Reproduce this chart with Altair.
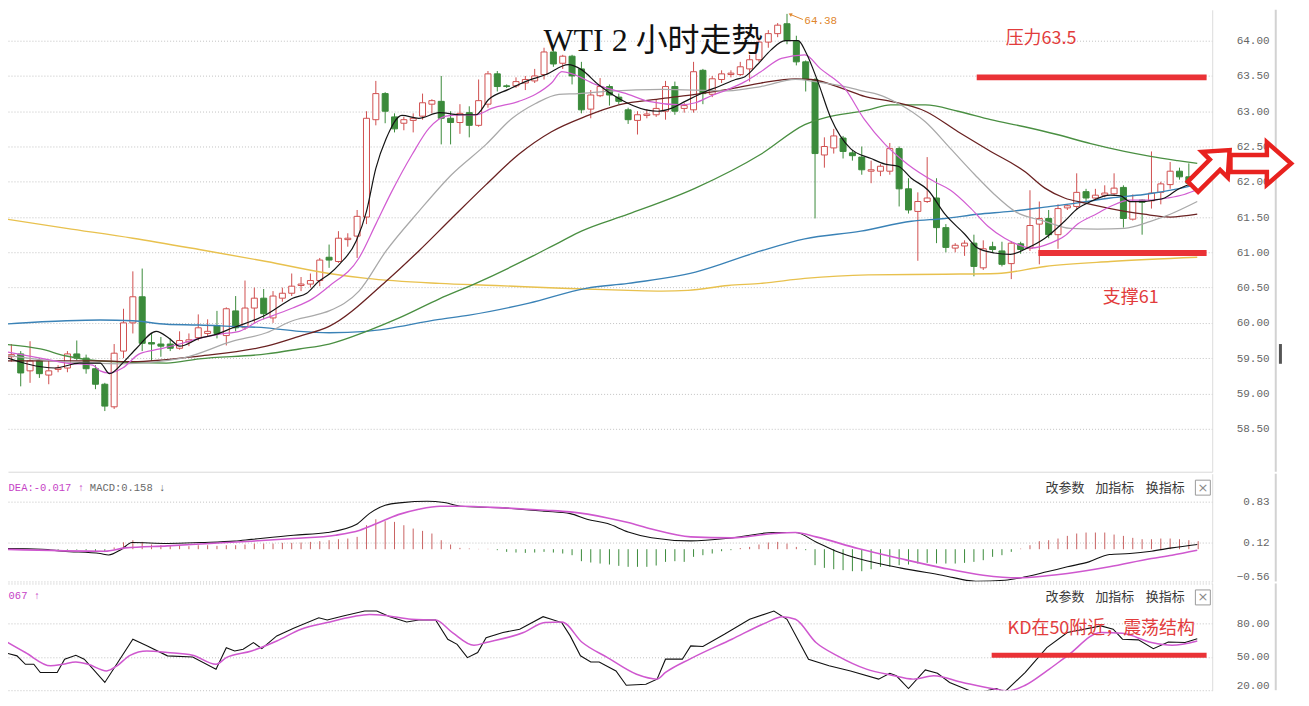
import altair as alt
import pandas as pd

RED = "#d04f4f"
GREEN = "#3b8b3b"
HRED = "#c96262"
ANN = "#e23c3c"
ANN_LINE = "#ea3236"
MAG = "#c63fc6"

# ---------------- candles (index 0..128) ----------------
opens = [59.28, 59.52, 59.56, 59.32, 59.46, 59.26, 59.34, 59.36, 59.56, 59.50,
         59.35, 59.13, 58.81, 59.60, 60.00, 60.37, 59.72, 59.70, 59.70, 59.64,
         59.73, 59.79, 59.85, 59.96, 59.82, 60.17, 59.93, 60.21, 60.35, 60.07,
         60.35, 60.42, 60.53, 60.55, 60.60, 60.93, 60.87, 61.18, 61.23, 61.50,
         62.88, 63.25, 62.92, 62.83, 62.87, 62.93, 63.10, 63.14, 62.90, 62.84,
         62.98, 62.80, 63.10, 63.53, 63.36, 63.36, 63.40, 63.43, 63.52, 63.84,
         63.68, 63.78, 63.60, 63.03, 63.22, 63.35, 63.20, 63.02, 62.87, 62.94,
         62.95, 63.00, 63.35, 63.04, 63.02, 63.58, 63.24, 63.45, 63.52, 63.52,
         63.60, 63.73, 63.98, 64.10, 64.24, 63.99, 63.70, 63.45, 62.38, 62.48,
         62.62, 62.41, 62.35, 62.15, 62.15, 62.15, 62.47, 61.90, 61.58, 61.72,
         61.77, 61.35, 61.06, 61.09, 61.13, 60.78, 61.08, 61.02, 60.84, 61.12,
         61.06, 61.40, 61.48, 61.25, 61.63, 61.65, 61.86, 61.77, 61.81, 61.83,
         61.92, 61.47, 61.74, 61.73, 61.85, 61.96, 62.15, 62.07, 61.95]
closes = [59.49, 59.55, 59.29, 59.46, 59.28, 59.32, 59.36, 59.56, 59.50, 59.35,
          59.13, 58.82, 59.57, 60.00, 60.37, 59.71, 59.70, 59.67, 59.64, 59.75,
          59.76, 59.93, 59.88, 59.85, 60.20, 59.93, 60.21, 60.35, 60.13, 60.38,
          60.42, 60.52, 60.55, 60.60, 60.89, 60.89, 61.20, 61.20, 61.51, 62.90,
          63.25, 63.00, 62.75, 62.88, 62.90, 63.12, 63.15, 62.90, 62.84, 62.97,
          62.80, 63.15, 63.53, 63.35, 63.35, 63.42, 63.45, 63.50, 63.84, 63.67,
          63.78, 63.50, 63.02, 63.23, 63.35, 63.23, 63.14, 62.88, 62.95, 62.96,
          63.04, 63.35, 63.00, 63.08, 63.56, 63.25, 63.46, 63.53, 63.54, 63.63,
          63.73, 63.98, 64.10, 64.22, 64.00, 63.70, 63.45, 62.40, 62.50, 62.65,
          62.43, 62.37, 62.17, 62.17, 62.22, 62.47, 61.90, 61.60, 61.72, 61.77,
          61.35, 61.07, 61.10, 61.13, 60.80, 61.05, 61.04, 60.83, 61.13, 61.04,
          61.38, 61.48, 61.25, 61.62, 61.66, 61.85, 61.77, 61.81, 61.84, 61.91,
          61.48, 61.72, 61.71, 61.84, 61.97, 62.15, 62.07, 61.98, 62.05]
highs = [59.55, 59.70, 59.60, 59.74, 59.50, 59.46, 59.40, 59.60, 59.75, 59.55,
         59.40, 59.15, 59.70, 60.20, 60.73, 60.77, 59.84, 59.80, 59.78, 59.88,
         59.85, 60.12, 60.05, 60.17, 60.22, 60.38, 60.60, 60.50, 60.48, 60.45,
         60.50, 60.70, 60.65, 60.70, 60.92, 61.11, 61.30, 61.27, 61.60, 63.00,
         63.43, 63.27, 62.97, 62.92, 62.97, 63.25, 63.17, 63.50, 63.00, 63.10,
         63.07, 63.45, 63.57, 63.57, 63.38, 63.48, 63.50, 63.60, 63.90, 63.88,
         63.80, 63.80, 63.70, 63.30, 63.47, 63.38, 63.25, 63.05, 63.00, 63.03,
         63.17, 63.43, 63.42, 63.12, 63.70, 63.60, 63.50, 63.58, 63.58, 63.70,
         63.80, 64.02, 64.15, 64.25, 64.38, 64.07, 63.72, 63.47, 62.63, 62.75,
         62.65, 62.45, 62.50, 62.30, 62.25, 62.55, 62.50, 62.05, 61.85, 62.35,
         62.05, 61.40, 61.13, 61.17, 61.25, 61.17, 61.15, 61.15, 61.16, 61.15,
         61.88, 61.72, 61.60, 61.68, 61.68, 62.12, 61.90, 61.90, 61.95, 62.12,
         61.95, 61.82, 61.75, 62.43, 62.00, 62.28, 62.20, 62.26, 62.10]
lows = [59.15, 59.45, 59.10, 59.15, 59.22, 59.13, 59.30, 59.30, 59.47, 59.28,
        59.06, 58.75, 58.78, 59.50, 59.85, 59.60, 59.46, 59.52, 59.60, 59.62,
        59.67, 59.75, 59.80, 59.78, 59.68, 59.88, 59.90, 60.00, 60.05, 60.00,
        60.30, 60.38, 60.45, 60.50, 60.52, 60.78, 60.85, 61.08, 60.92, 61.40,
        62.80, 62.83, 62.70, 62.73, 62.70, 62.88, 62.97, 62.53, 62.53, 62.68,
        62.63, 62.78, 63.05, 63.28, 63.33, 63.33, 63.30, 63.40, 63.45, 63.63,
        63.60, 63.38, 62.97, 62.90, 63.20, 63.08, 63.10, 62.82, 62.67, 62.90,
        62.92, 62.88, 62.95, 62.98, 62.98, 63.10, 63.20, 63.40, 63.48, 63.50,
        63.42, 63.70, 63.90, 64.05, 63.95, 63.65, 63.28, 61.48, 62.20, 62.40,
        62.33, 62.30, 62.10, 61.98, 62.08, 62.10, 61.65, 61.55, 60.88, 61.70,
        61.13, 61.00, 61.00, 60.95, 60.66, 60.75, 61.00, 60.80, 60.62, 60.98,
        61.02, 60.83, 61.20, 61.05, 61.60, 61.60, 61.70, 61.75, 61.78, 61.80,
        61.35, 61.45, 61.25, 61.62, 61.68, 61.90, 62.03, 61.94, 61.93]

# ---------------- moving averages (read at sample candle positions) ----------------
ma5_i = [0, 5.7, 8.3, 10.5, 11.5, 12.9, 14.4, 16.5, 17.9, 19.0, 21.1, 23.0, 24.7, 26.8, 28.3,
         29.4, 31.1, 32.6, 33.9, 35.0, 36.1, 37.9, 39.0, 40.0, 41.1, 42.8, 44.6, 46.8, 48.9, 50.7,
         52.1, 54.2, 56.0, 58.2, 60.6, 62.0, 63.8, 66.0, 68.9, 70.2, 71.6, 73.1, 75.3, 76.7, 78.5,
         79.5, 80.9, 82.3, 83.8, 85.2, 86.0, 87.3, 88.7, 90.8, 93.0, 94.5, 95.9, 97.3, 99.1, 100.9,
         103.0, 104.4, 106.2, 107.9, 109.7, 111.6, 113.7, 115.1, 116.5, 118.6, 119.7, 120.7, 122.2,
         123.3, 124.4, 125.8, 127.9]
ma5_v = [59.53, 59.36, 59.43, 59.43, 59.28, 59.43, 59.64, 59.88, 59.78, 59.67, 59.78, 59.84, 59.93,
         60.03, 60.12, 60.21, 60.35, 60.42, 60.59, 60.69, 60.83, 61.16, 61.58, 62.19, 62.61, 62.94,
         62.90, 62.98, 62.95, 62.95, 63.17, 63.31, 63.42, 63.52, 63.66, 63.59, 63.38, 63.18, 63.02,
         63.00, 63.04, 63.14, 63.28, 63.35, 63.45, 63.49, 63.67, 63.87, 64.00, 64.00, 63.84, 63.42,
         62.90, 62.47, 62.33, 62.25, 62.22, 62.05, 61.88, 61.54, 61.26, 61.06, 60.99, 60.97, 61.06,
         61.20, 61.44, 61.62, 61.72, 61.81, 61.80, 61.72, 61.72, 61.74, 61.77, 61.89, 62.00]
ma10_i = [0, 4.1, 6.9, 9.7, 10.5, 11.5, 12.9, 14.7, 16.9, 19.0, 21.1, 23.3, 25.4, 27.5, 28.9, 31.1,
          33.2, 35.0, 38.2, 40.0, 41.7, 43.9, 45.7, 47.5, 49.2, 50.7, 52.4, 55.3, 57.1, 58.8, 59.9,
          61.0, 63.5, 67.0, 69.2, 72.7, 74.2, 75.9, 77.7, 79.5, 81.2, 83.4, 85.9, 87.6, 90.2, 92.3,
          94.5, 96.9, 99.8, 101.5, 103.7, 105.5, 107.3, 108.7, 110.1, 112.2, 113.7, 115.1, 117.2,
          118.6, 120.7, 122.9, 124.7, 126.5, 127.9]
ma10_v = [59.60, 59.50, 59.43, 59.40, 59.32, 59.29, 59.36, 59.56, 59.63, 59.70, 59.78, 59.84, 59.88,
          60.03, 60.10, 60.21, 60.34, 60.52, 60.92, 61.40, 61.86, 62.39, 62.76, 62.93, 62.95, 62.95,
          63.04, 63.14, 63.24, 63.40, 63.56, 63.53, 63.38, 63.24, 63.14, 63.09, 63.12, 63.22, 63.31,
          63.42, 63.56, 63.75, 63.80, 63.60, 63.32, 62.88, 62.53, 62.25, 62.00, 61.88, 61.62, 61.37,
          61.20, 61.11, 61.06, 61.13, 61.23, 61.40, 61.55, 61.65, 61.74, 61.74, 61.77, 61.82, 61.89]
ma20_i = [0, 6.2, 12.6, 19.3, 24.7, 28.3, 31.1, 33.2, 35.0, 38.2, 41.1, 44.6, 48.1, 51.8, 54.6, 57.1,
          59.6, 61.7, 64.6, 70.6, 77.7, 81.2, 84.9, 87.0, 90.2, 92.3, 93.7, 95.9, 98.8, 101.5, 104.1,
          106.2, 108.4, 111.6, 114.3, 117.2, 120.1, 122.9, 125.0, 127.9]
ma20_v = [59.55, 59.45, 59.42, 59.50, 59.74, 59.86, 60.03, 60.10, 60.17, 60.45, 61.02, 61.58, 62.10,
          62.53, 62.90, 63.11, 63.24, 63.25, 63.28, 63.31, 63.29, 63.35, 63.45, 63.42, 63.35, 63.28,
          63.24, 63.11, 62.85, 62.47, 62.10, 61.82, 61.58, 61.44, 61.34, 61.33, 61.34, 61.44, 61.54,
          61.72]
ma30_i = [0, 10.5, 14.0, 21.1, 28.3, 31.8, 35.0, 41.1, 44.6, 48.1, 51.8, 55.3, 58.8, 62.5, 66.0, 70.6,
          74.2, 77.7, 81.2, 84.9, 86.6, 90.2, 92.3, 95.1, 98.8, 102.3, 105.8, 109.4, 111.6, 113.7,
          115.8, 118.6, 122.2, 125.0, 127.9]
ma30_v = [59.46, 59.46, 59.45, 59.53, 59.67, 59.81, 59.95, 60.59, 61.02, 61.48, 61.96, 62.39, 62.71,
          62.93, 63.09, 63.18, 63.24, 63.31, 63.40, 63.46, 63.45, 63.31, 63.21, 63.14, 63.00, 62.71,
          62.43, 62.15, 61.91, 61.77, 61.70, 61.62, 61.54, 61.50, 61.54]
ma60_i = [0, 4.1, 6.9, 10.5, 17.6, 21.1, 28.3, 31.8, 35.0, 39.0, 42.5, 46.8, 50.7, 56.4, 59.9, 62.0,
          67.0, 74.2, 81.2, 85.9, 92.7, 95.1, 98.8, 102.3, 105.8, 109.4, 112.9, 116.5, 120.1, 122.9,
          125.8, 127.9]
ma60_v = [59.70, 59.63, 59.53, 59.46, 59.43, 59.49, 59.56, 59.63, 59.70, 59.88, 60.07, 60.34, 60.56,
          60.92, 61.16, 61.30, 61.54, 61.91, 62.39, 62.81, 63.02, 63.09, 63.09, 63.00, 62.88, 62.78,
          62.67, 62.54, 62.43, 62.36, 62.30, 62.26]
ma120_i = [0, 6.9, 10.5, 14.0, 17.6, 21.1, 24.7, 28.3, 31.8, 35.0, 39.0, 46.8, 50.0, 56.4, 62.5, 67.0,
           74.2, 81.2, 85.9, 91.9, 97.3, 100.9, 104.4, 107.9, 111.6, 115.1, 118.6, 122.2, 125.8, 127.9]
ma120_v = [59.98, 60.03, 60.04, 60.03, 59.98, 59.97, 59.95, 59.93, 59.88, 59.86, 59.88, 60.05, 60.11,
           60.28, 60.49, 60.56, 60.72, 61.02, 61.19, 61.30, 61.44, 61.48, 61.54, 61.58, 61.64, 61.70,
           61.77, 61.82, 61.90, 61.96]
ma250_i = [0, 6.9, 14.0, 21.1, 28.3, 35.0, 39.0, 46.8, 52.8, 59.9, 67.0, 70.6, 73.4, 77.7, 81.2, 85.9,
           92.7, 100.9, 106.5, 111.6, 118.6, 127.9]
ma250_v = [61.48, 61.34, 61.20, 61.04, 60.87, 60.70, 60.63, 60.56, 60.53, 60.49, 60.46, 60.45, 60.46,
           60.53, 60.56, 60.63, 60.68, 60.69, 60.70, 60.80, 60.87, 60.93]

ma_names = ["MA250", "MA120", "MA60", "MA30", "MA20", "MA10", "MA5"]
ma_colors = ["#e8c14e", "#3a82b6", "#4a8f42", "#6a2222", "#a9a9a9", "#d25dd2", "#151515"]
ma_widths = [1.4, 1.2, 1.1, 1.1, 1.0, 1.2, 1.1]

# ---------------- MACD ----------------
hist_vals = [0.01, 0.01, 0.0, 0.0, -0.01, -0.01, -0.02, -0.01, -0.01, -0.02,
             -0.04, -0.05, 0.03, 0.12, 0.156, 0.127, 0.081, 0.069, 0.058, 0.058,
             0.052, 0.069, 0.069, 0.058, 0.069, 0.069, 0.081, 0.098, 0.098, 0.098,
             0.110, 0.110, 0.116, 0.127, 0.139, 0.156, 0.173, 0.185, 0.214, 0.416,
             0.520, 0.486, 0.474, 0.416, 0.358, 0.318, 0.272, 0.156, 0.081, 0.023,
             0.012, 0.005, 0.006, -0.017, -0.046, -0.058, -0.064, -0.058, -0.046, -0.058,
             -0.075, -0.104, -0.208, -0.231, -0.249, -0.266, -0.289, -0.306, -0.306, -0.306,
             -0.283, -0.220, -0.208, -0.220, -0.133, -0.104, -0.075, -0.035, -0.017, 0.02,
             0.040, 0.081, 0.116, 0.127, 0.098, 0.040, -0.017, -0.277, -0.324, -0.347,
             -0.364, -0.382, -0.382, -0.347, -0.306, -0.306, -0.277, -0.266, -0.249, -0.237,
             -0.249, -0.249, -0.249, -0.237, -0.220, -0.191, -0.133, -0.104, -0.046, 0.01,
             0.069, 0.139, 0.156, 0.185, 0.231, 0.272, 0.289, 0.289, 0.289, 0.254,
             0.231, 0.197, 0.173, 0.173, 0.185, 0.185, 0.173, 0.156, 0.139]
dif_i = [0, 4.3, 6.5, 10.5, 11.4, 12.8, 13.9, 17.7, 21.3, 24.9, 26.7, 31.2, 34.8, 37.9, 39.3, 41,
         42.8, 45.5, 47.3, 49.1, 53.6, 58.1, 60.8, 62.6, 64.8, 67, 69.5, 73.7, 78.1, 82.6, 84.9,
         87.1, 89.4, 91.6, 93.8, 96.1, 100.6, 104.2, 107.3, 109.5, 111.8, 114, 116.3, 118.5,
         120.7, 123, 125.2, 127.9]
dif_v = [0.01, 0.0, -0.035, -0.075, -0.10, 0.0, 0.116, 0.10, 0.116, 0.14, 0.17, 0.243, 0.289,
         0.428, 0.618, 0.763, 0.809, 0.832, 0.809, 0.746, 0.717, 0.659, 0.618, 0.52, 0.445, 0.30,
         0.20, 0.145, 0.197, 0.289, 0.289, 0.127, -0.046, -0.162, -0.249, -0.324, -0.451, -0.555,
         -0.538, -0.48, -0.393, -0.306, -0.22, -0.092, -0.075, -0.035, 0.023, 0.081]
dea_i = [0, 11, 13.2, 17.7, 22.2, 26.7, 31.2, 35.7, 38.3, 40.1, 42.4, 44.6, 46.9, 49.1, 53.6, 58.1,
         60.8, 64.8, 67, 69.5, 73.7, 78.1, 82.6, 84.9, 87.1, 91.6, 96.1, 100.6, 105, 108.7, 111.8,
         114, 118.5, 123, 125.2, 127.9]
dea_v = [0.0, -0.035, 0.023, 0.058, 0.10, 0.139, 0.185, 0.243, 0.33, 0.445, 0.60, 0.694, 0.746,
         0.746, 0.717, 0.676, 0.647, 0.543, 0.462, 0.35, 0.214, 0.197, 0.272, 0.289, 0.214, 0.012,
         -0.162, -0.324, -0.451, -0.497, -0.462, -0.422, -0.306, -0.162, -0.104, -0.017]

# ---------------- KD ----------------
k_i = [0, 1.6, 2.5, 3.4, 4.1, 5.9, 6.7, 7.9, 8.8, 11, 14, 15.5, 17.7, 20.4, 22.9, 24, 24.9, 25.8,
       26.9, 27.8, 29.4, 31.2, 33.9, 34.8, 36.5, 38.8, 40.1, 41.5, 43.3, 44.6, 46.4, 47.7, 48.7,
       49.8, 50.9, 51.8, 53.6, 55.4, 57.9, 59.9, 60.8, 61.9, 63, 63.9, 65.7, 66.8, 68.9, 70.1, 71,
       72.8, 73.7, 75, 77.3, 80, 82.6, 84, 86.3, 88.5, 90.8, 93.8, 95, 95.7, 97, 98.8, 100.1, 101.4,
       104.2, 106.4, 107.3, 109.5, 111.8, 114, 117.6, 118.9, 119.9, 121.6, 123.2, 124.8, 126.6, 127.9]
k_v = [54.5, 51, 43.4, 43.4, 36, 36, 48, 51.5, 48, 27, 66, 60, 51, 50, 39, 58.4, 55.4, 57, 63, 57.5,
       69, 76, 85.4, 83.3, 87, 91.4, 91.4, 86.3, 81.5, 83.3, 83.3, 66, 61.4, 49.4, 54, 67.4, 72, 75,
       86.3, 81, 69, 51, 45.5, 45.5, 37.4, 24.5, 25.4, 30, 48, 48, 60, 59.4, 70.4, 84, 91.4, 84, 48,
       42, 37.4, 30, 35.3, 33, 21.5, 38.3, 35.3, 27, 17.3, 21.5, 18.5, 36, 58.4, 72, 78, 75, 66, 65.4,
       57.5, 63.5, 63, 66.5]
d_i = [0, 2.5, 5.2, 6.5, 7.9, 9.2, 11.2, 12.3, 13.7, 15.5, 17.7, 20.4, 22.9, 24, 26.7, 29.4, 32,
       34.8, 37.5, 39.3, 41, 43.8, 46.4, 48.2, 50.5, 51.8, 55.8, 58.1, 59.9, 62.1, 64.8, 67.9, 70.1,
       71, 73.7, 78.1, 81.8, 83.5, 84.9, 87.1, 89.4, 92.5, 95.2, 97.5, 99.7, 102.8, 105.9, 107.7,
       109.5, 111.8, 114, 117.6, 119.9, 123, 125.2, 127.9]
d_v = [66, 54, 42, 43.4, 45.5, 43.4, 37.4, 42, 51.5, 55.4, 54, 51.5, 43.4, 49.4, 55.4, 64.4, 75, 81,
       86.3, 88.4, 87.5, 84, 83.3, 72, 60.5, 63, 72, 81, 81.5, 63, 49.4, 34.4, 30, 36, 48.5, 66, 81,
       86.3, 84, 63, 51, 39, 33.5, 30, 33, 27, 21.5, 19.4, 24.5, 37.4, 51, 72, 71.3, 63, 60.5, 64.4]

# ---------------- ticks / labels ----------------
price_ticks = [58.5, 59.0, 59.5, 60.0, 60.5, 61.0, 61.5, 62.0, 62.5, 63.0, 63.5, 64.0]
macd_ticks = [-0.56, 0.12, 0.83]
kd_ticks = [20, 50, 80]
tool_labels = ["改参数", "加指标", "换指标"]
tool_pos = [111.67, 117.0, 122.4]

# ---------------- frames ----------------
candles = pd.DataFrame({"i": list(range(len(opens))), "open": opens, "close": closes,
                        "high": highs, "low": lows})
ma_df = pd.concat([
    pd.DataFrame({"i": ma250_i, "v": ma250_v, "ma": "MA250"}),
    pd.DataFrame({"i": ma120_i, "v": ma120_v, "ma": "MA120"}),
    pd.DataFrame({"i": ma60_i, "v": ma60_v, "ma": "MA60"}),
    pd.DataFrame({"i": ma30_i, "v": ma30_v, "ma": "MA30"}),
    pd.DataFrame({"i": ma20_i, "v": ma20_v, "ma": "MA20"}),
    pd.DataFrame({"i": ma10_i, "v": ma10_v, "ma": "MA10"}),
    pd.DataFrame({"i": ma5_i, "v": ma5_v, "ma": "MA5"}),
], ignore_index=True)
hist_df = pd.DataFrame({"i": list(range(len(hist_vals))), "h": hist_vals, "base": 0.0})
dif_df = pd.DataFrame({"i": dif_i, "v": dif_v})
dea_df = pd.DataFrame({"i": dea_i, "v": dea_v})
k_df = pd.DataFrame({"i": k_i, "v": k_v})
d_df = pd.DataFrame({"i": d_i, "v": d_v})

W = 1207
xs = alt.Scale(domain=[0.64, 129.5], nice=False, zero=False, padding=0)
ys_main = alt.Scale(domain=[57.89, 64.438], nice=False, zero=False, padding=0)
ys_macd = alt.Scale(domain=[-0.56, 1.31], nice=False, zero=False, padding=0)
ys_kd = alt.Scale(domain=[20, 116.3], nice=False, zero=False, padding=0)


def yaxis(values, flush=False):
    return alt.Axis(orient="right", values=values, format=".2f", title=None, ticks=False,
                    labelAlign="right", labelPadding=57, labelFont="Liberation Mono",
                    labelFontSize=11, labelColor="#666666", labelFlush=flush,
                    domainColor="#dcdcdc", grid=True, gridColor="#c2c2c2", gridDash=[1, 2])


class Panel:
    def __init__(self, ys, xaxis, yax):
        self.ys, self.xaxis, self.yax = ys, xaxis, yax

    def x(self, field="x"):
        return alt.X(f"{field}:Q", scale=xs, axis=self.xaxis)

    def y(self, field="y"):
        return alt.Y(f"{field}:Q", scale=self.ys, axis=self.yax)


MAIN = Panel(ys_main, alt.Axis(labels=False, ticks=False, grid=False, title=None,
                               domainColor="#d9d9d9"), yaxis(price_ticks))
MACD = Panel(ys_macd, None, yaxis(macd_ticks, flush=True))
KD = Panel(ys_kd, alt.Axis(orient="top", labels=False, ticks=False, grid=False, title=None,
                           domainColor="#c4c4c4", domainDash=[1, 2]), yaxis(kd_ticks, flush=True))

up = "datum.close >= datum.open"
frame_df = pd.DataFrame({"x": [136.3]})


def frame(p):
    return alt.Chart(frame_df).mark_rule(color="#d2d2d2", strokeWidth=2).encode(x=p.x("x"))


def tools(p, yv):
    t = alt.Chart(pd.DataFrame({"x": tool_pos, "y": [yv] * 3, "t": tool_labels})).mark_text(
        align="left", baseline="middle", font="Noto Sans CJK SC", fontSize=13,
        color="#3a3a3a").encode(x=p.x(), y=p.y(), text="t:N")
    box = alt.Chart(pd.DataFrame({"x": [128.5], "y": [yv]})).mark_point(
        shape="square", size=225, filled=False, color="#9a9a9a", strokeWidth=1, opacity=1).encode(
        x=p.x(), y=p.y())
    cross = alt.Chart(pd.DataFrame({"x": [128.5], "y": [yv], "t": ["×"]})).mark_text(
        align="center", baseline="middle", font="DejaVu Sans", fontSize=13,
        color="#8a8a8a").encode(x=p.x(), y=p.y(), text="t:N")
    return [t, box, cross]


# ---------------- main panel ----------------
wicks = alt.Chart(candles).mark_rule(clip=True, strokeWidth=1).encode(
    x=MAIN.x("i"), y=MAIN.y("low"), y2="high:Q",
    color=alt.condition(up, alt.value(RED), alt.value(GREEN)),
)
bodies = alt.Chart(candles).mark_bar(clip=True, size=6, strokeWidth=1).encode(
    x=MAIN.x("i"), y=MAIN.y("open"), y2="close:Q",
    fill=alt.condition(up, alt.value("#ffffff"), alt.value(GREEN)),
    stroke=alt.condition(up, alt.value(RED), alt.value(GREEN)),
)
ma_lines = alt.Chart(ma_df).mark_line(clip=True, interpolate="monotone").encode(
    x=MAIN.x("i"), y=MAIN.y("v"),
    color=alt.Color("ma:N", scale=alt.Scale(domain=ma_names, range=ma_colors), legend=None),
    strokeWidth=alt.StrokeWidth("ma:N", scale=alt.Scale(domain=ma_names, range=ma_widths),
                                legend=None),
)
levels = alt.Chart(pd.DataFrame({"x": [104.3, 110.9], "x2": [128.9, 128.9],
                                 "y": [63.48, 60.99]})).mark_rule(
    color=ANN_LINE, strokeWidth=6).encode(x=MAIN.x("x"), x2="x2:Q", y=MAIN.y("y"))
level_text = alt.Chart(pd.DataFrame({"x": [107.4, 117.8], "y": [64.03, 60.35],
                                     "t": ["压力63.5", "支撑61"]})).mark_text(
    align="left", baseline="middle", font="Noto Sans CJK SC", fontSize=18, color=ANN).encode(
    x=MAIN.x("x"), y=MAIN.y("y"), text="t:N")
title_text = alt.Chart(pd.DataFrame({"x": [69.7], "y": [63.99], "t": ["WTI 2 小时走势"]})).mark_text(
    align="center", baseline="middle", font="Liberation Serif, Noto Sans CJK SC", fontSize=32,
    color="#111111").encode(x=MAIN.x("x"), y=MAIN.y("y"), text="t:N")
peak_text = alt.Chart(pd.DataFrame({"x": [85.85], "y": [64.28], "t": ["64.38"]})).mark_text(
    align="left", baseline="middle", font="Liberation Mono", fontSize=11, color="#e0862c").encode(
    x=MAIN.x("x"), y=MAIN.y("y"), text="t:N")
peak_arrow = alt.Chart(pd.DataFrame({"x": [84.4], "x2": [85.7], "y": [64.37], "y2": [64.30]})).mark_rule(
    color="#e0862c", strokeWidth=1).encode(x=MAIN.x("x"), x2="x2:Q", y=MAIN.y("y"), y2="y2:Q")
peak_head = alt.Chart(pd.DataFrame({"x": [84.4], "y": [64.37]})).mark_point(
    shape="triangle", size=16, filled=True, color="#e0862c", opacity=1, angle=295).encode(
    x=MAIN.x("x"), y=MAIN.y("y"))
ARROW = "M-1,-0.28L0.2,-0.28L0.2,-0.7L1,0L0.2,0.7L0.2,0.28L-1,0.28Z"
arrow_ur = alt.Chart(pd.DataFrame({"x": [129.4], "y": [62.19]})).mark_point(
    shape=ARROW, size=2700, angle=315, filled=True, fill="#ffffff", stroke="#e8221f",
    strokeWidth=4.5, opacity=1, fillOpacity=1, strokeOpacity=1).encode(x=MAIN.x("x"), y=MAIN.y("y"))
arrow_r = alt.Chart(pd.DataFrame({"x": [134.7], "y": [62.26]})).mark_point(
    shape=ARROW, size=3700, filled=True, fill="#ffffff", stroke="#e8221f",
    strokeWidth=4.5, opacity=1, fillOpacity=1, strokeOpacity=1).encode(x=MAIN.x("x"), y=MAIN.y("y"))
thumb = alt.Chart(pd.DataFrame({"x": [136.8], "y": [59.70], "y2": [59.42]})).mark_rule(
    color="#555555", strokeWidth=3).encode(x=MAIN.x("x"), y=MAIN.y("y"), y2="y2:Q")

main = alt.layer(wicks, bodies, ma_lines, levels, level_text, title_text, peak_arrow, peak_head,
                 peak_text, frame(MAIN), thumb, arrow_ur, arrow_r).properties(width=W, height=463)

# ---------------- MACD panel ----------------
hist = alt.Chart(hist_df).mark_rule(clip=True, strokeWidth=1).encode(
    x=MACD.x("i"), y=MACD.y("h"), y2="base:Q",
    color=alt.condition("datum.h >= 0", alt.value(HRED), alt.value(GREEN)),
)
dif_line = alt.Chart(dif_df).mark_line(clip=True, color="#111111", strokeWidth=1.1,
                                       interpolate="monotone").encode(x=MACD.x("i"), y=MACD.y("v"))
dea_line = alt.Chart(dea_df).mark_line(clip=True, color="#cf58cf", strokeWidth=1.6,
                                       interpolate="monotone").encode(x=MACD.x("i"), y=MACD.y("v"))
macd_head = alt.Chart(pd.DataFrame({"x": [0.7, 9.4], "y": [1.068, 1.068],
                                    "t": ["DEA:-0.017 ↑", "MACD:0.158 ↓"],
                                    "c": [MAG, "#6a6a6a"]})).mark_text(
    align="left", baseline="middle", font="Liberation Mono", fontSize=10.5).encode(
    x=MACD.x("x"), y=MACD.y("y"), text="t:N", color=alt.Color("c:N", scale=None))
macd = alt.layer(hist, dif_line, dea_line, macd_head, *tools(MACD, 1.068), frame(MACD)).properties(
    width=W, height=108)

# ---------------- KD panel ----------------
k_line = alt.Chart(k_df).mark_line(clip=True, color="#111111", strokeWidth=1.1).encode(
    x=KD.x("i"), y=KD.y("v"))
d_line = alt.Chart(d_df).mark_line(clip=True, color="#cf58cf", strokeWidth=1.5,
                                   interpolate="monotone").encode(x=KD.x("i"), y=KD.y("v"))
kd_level = alt.Chart(pd.DataFrame({"x": [105.9], "x2": [128.9], "y": [51.5]})).mark_rule(
    color=ANN_LINE, strokeWidth=5).encode(x=KD.x("x"), x2="x2:Q", y=KD.y("y"))
kd_text = alt.Chart(pd.DataFrame({"x": [107.6], "y": [74.9], "t": ["KD在50附近，震荡结构"]})).mark_text(
    align="left", baseline="middle", font="Noto Sans CJK SC", fontSize=18, color=ANN).encode(
    x=KD.x("x"), y=KD.y("y"), text="t:N")
kd_head = alt.Chart(pd.DataFrame({"x": [0.7], "y": [104.6], "t": ["067 ↑"]})).mark_text(
    align="left", baseline="middle", font="Liberation Mono", fontSize=10.5,
    color=MAG).encode(x=KD.x("x"), y=KD.y("y"), text="t:N")
kd = alt.layer(k_line, d_line, kd_level, kd_text, kd_head, *tools(KD, 103.7), frame(KD)).properties(
    width=W, height=107)

chart = alt.vconcat(main, macd, kd, spacing=0).properties(padding=0).configure_view(stroke=None)
chart.save("out.html", embed_options={"renderer": "svg", "actions": False})
